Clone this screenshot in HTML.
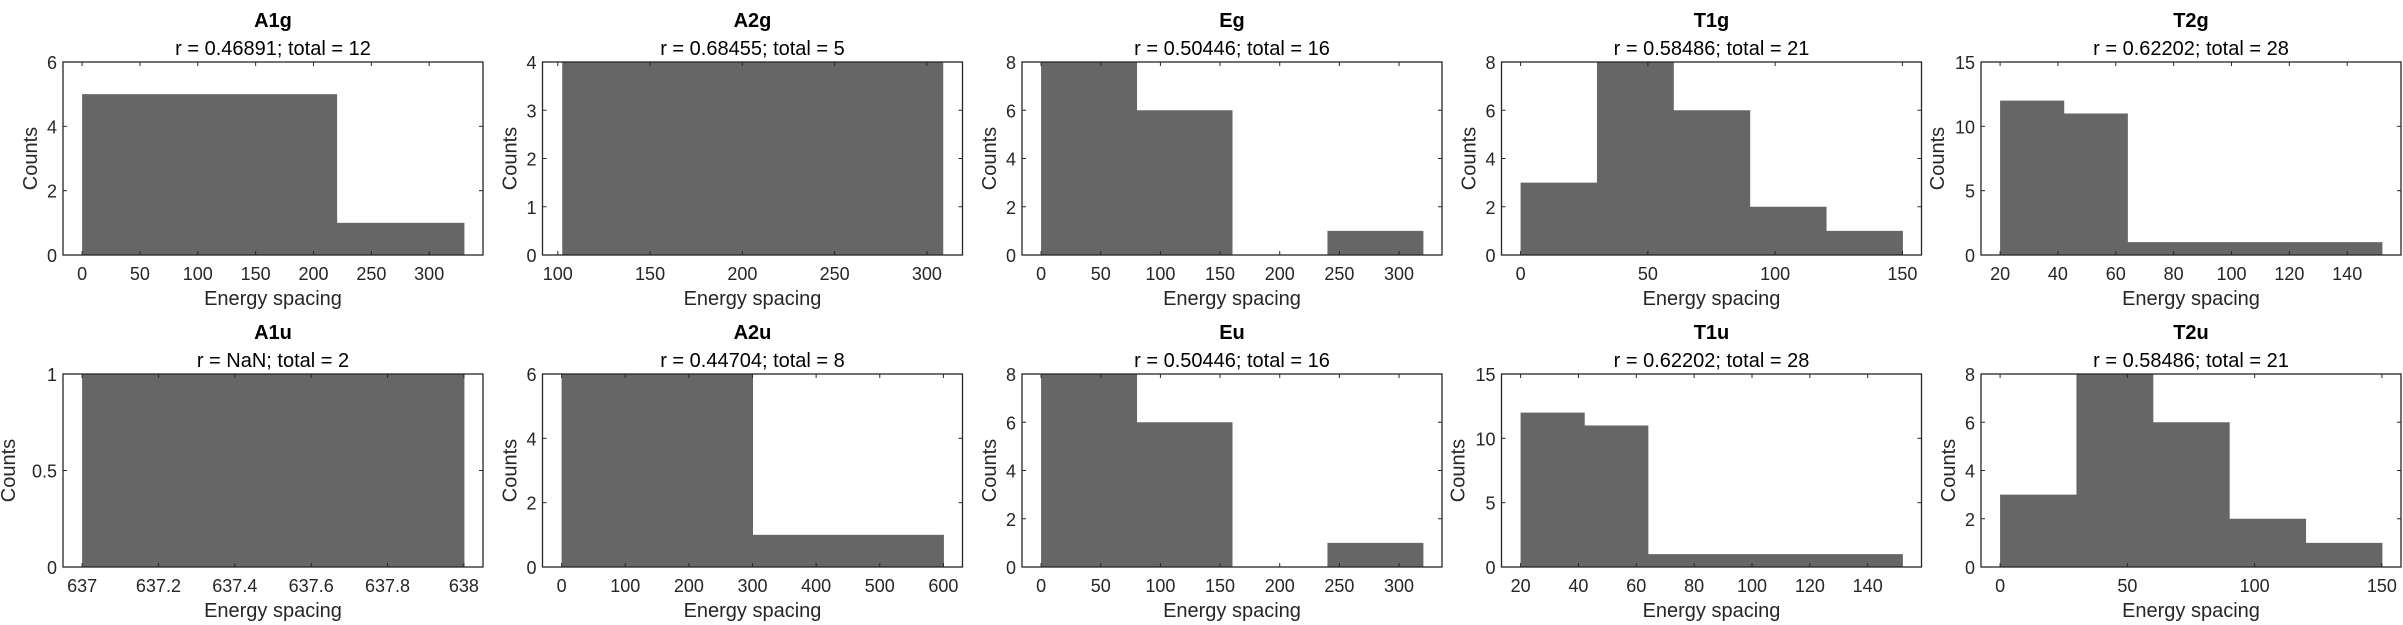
<!DOCTYPE html>
<html><head><meta charset="utf-8"><style>
html,body{margin:0;padding:0;background:#fff;}
svg{display:block;font-family:"Liberation Sans",Arial,sans-serif;}
</style></head><body>
<svg id="fig" width="2403" height="625" viewBox="0 0 2403 625" xmlns="http://www.w3.org/2000/svg"></svg>
<script>
// ---- data ----
const titles = ["A1g","A2g","Eg","T1g","T2g","A1u","A2u","Eu","T1u","T2u"];
const subtitles = ["r = 0.46891; total = 12","r = 0.68455; total = 5","r = 0.50446; total = 16","r = 0.58486; total = 21","r = 0.62202; total = 28",
                   "r = NaN; total = 2","r = 0.44704; total = 8","r = 0.50446; total = 16","r = 0.62202; total = 28","r = 0.58486; total = 21"];
const binEdges = [
  [0,220,330],[102.4,308.6],[0,80,160,240,320],[0,30,60,90,120,150],[20,42,64,86,108,130,152],
  [637,638],[0,300,600],[0,80,160,240,320],[20,42,64,86,108,130,152],[0,30,60,90,120,150]];
const binCounts = [
  [5,1],[4],[8,6,0,1],[3,8,6,2,1],[12,11,1,1,1,1],
  [1],[6,1],[8,6,0,1],[12,11,1,1,1,1],[3,8,6,2,1]];
const xLimits = [[-16.5,346.5],[91.7,319.3],[-16,336],[-7.5,157.5],[13.4,158.6],
                 [636.95,638.05],[-30,630],[-16,336],[13.4,158.6],[-7.5,157.5]];
const yLimits = [[0,6],[0,4],[0,8],[0,8],[0,15],[0,1],[0,6],[0,8],[0,15],[0,8]];
const xTickLabels = [
  ["0","50","100","150","200","250","300"],["100","150","200","250","300"],["0","50","100","150","200","250","300"],["0","50","100","150"],["20","40","60","80","100","120","140"],
  ["637","637.2","637.4","637.6","637.8","638"],["0","100","200","300","400","500","600"],["0","50","100","150","200","250","300"],["20","40","60","80","100","120","140"],["0","50","100","150"]];
const yTickLabels = [["0","2","4","6"],["0","1","2","3","4"],["0","2","4","6","8"],["0","2","4","6","8"],["0","5","10","15"],
  ["0","0.5","1"],["0","2","4","6"],["0","2","4","6","8"],["0","5","10","15"],["0","2","4","6","8"]];

const NS="http://www.w3.org/2000/svg";
const svg=document.getElementById('fig');
function mk(tag,attrs,parent){const e=document.createElementNS(NS,tag);for(const k in attrs)e.setAttribute(k,attrs[k]);(parent||svg).appendChild(e);return e;}

for(let i=0;i<10;i++){
  const col=i%5,row=Math.floor(i/5);
  const L=63+479.5*col,R=L+420,T=row?374:62,B=row?567:255;
  const g=mk('g',{});
  
  
  const xs=v=>L+(v-xLimits[i][0])/(xLimits[i][1]-xLimits[i][0])*(R-L);
  const ys=v=>B-(v-yLimits[i][0])/(yLimits[i][1]-yLimits[i][0])*(B-T);
  const e=binEdges[i],c=binCounts[i];
  for(let k=0;k<c.length;k++){
    if(c[k]<=0)continue;
    const r=mk('rect',{x:xs(e[k]),y:ys(c[k]),width:xs(e[k+1])-xs(e[k])+0.5,height:ys(0)-ys(c[k]),fill:'#666666'},g);
    
    
  }
  const bx=mk('rect',{x:L,y:T,width:R-L,height:B-T,fill:'none',stroke:'#262626','stroke-width':1.3},g);
  
  
  xTickLabels[i].forEach(t=>{
    const x=xs(parseFloat(t));
    mk('line',{x1:x,y1:B,x2:x,y2:B-4,stroke:'#262626','stroke-width':1},g);
    mk('line',{x1:x,y1:T,x2:x,y2:T+4,stroke:'#262626','stroke-width':1},g);
    const tx=mk('text',{x:x,y:B+25,'font-size':18,fill:'#262626','text-anchor':'middle'},g);
    tx.textContent=t;
    
    
  });
  yTickLabels[i].forEach(t=>{
    const y=ys(parseFloat(t));
    mk('line',{x1:L,y1:y,x2:L+4,y2:y,stroke:'#262626','stroke-width':1},g);
    mk('line',{x1:R,y1:y,x2:R-4,y2:y,stroke:'#262626','stroke-width':1},g);
    const ty=mk('text',{x:L-6,y:y+7,'font-size':18,fill:'#262626','text-anchor':'end'},g);
    ty.textContent=t;
    
    
  });
  const cx=(L+R)/2;
  const ti=mk('text',{x:cx,y:T-35,'font-size':20,'font-weight':'bold',fill:'#000','text-anchor':'middle'},g);
  ti.textContent=titles[i];
  
  
  const st=mk('text',{x:cx,y:T-7,'font-size':20,fill:'#000','text-anchor':'middle'},g);
  st.textContent=subtitles[i];
  
  
  const xl=mk('text',{x:cx,y:B+50,'font-size':20,fill:'#262626','text-anchor':'middle'},g);
  xl.textContent='Energy spacing';
  
  
  const maxw=Math.max(...yTickLabels[i].map(s=>s.length));
  const lx=L-22-11*maxw+7;
  const yl=mk('text',{x:lx,y:(T+B)/2,'font-size':20,fill:'#262626','text-anchor':'middle',transform:`rotate(-90 ${lx} ${(T+B)/2})`},g);
  yl.textContent='Counts';
  
  
}
</script>
</body></html>
